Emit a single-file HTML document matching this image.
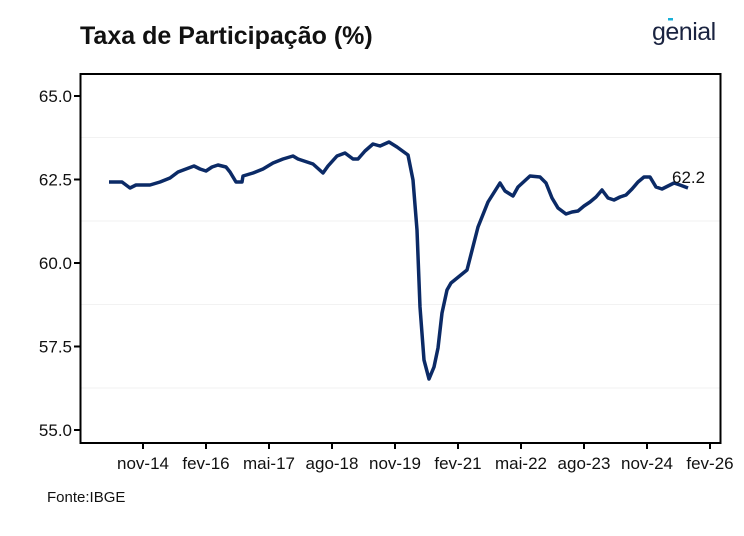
<!DOCTYPE html>
<html><head><meta charset="utf-8"><style>
body{margin:0;background:#fff;width:744px;height:531px;overflow:hidden;font-family:"Liberation Sans",Arial,sans-serif}
</style></head><body>
<svg width="744" height="531" viewBox="0 0 744 531" xmlns="http://www.w3.org/2000/svg" font-family="Liberation Sans, Arial, sans-serif">
<text x="80" y="44" font-size="25" font-weight="bold" fill="#111">Taxa de Participação (%)</text>
<text x="652" y="40" font-size="25" fill="#1a2340" letter-spacing="-0.5">genial</text>
<rect x="668" y="18" width="5" height="2.5" fill="#19b0d8"/>
<g stroke="#f2f2f2" stroke-width="1">
<line x1="81" x2="720" y1="137.5" y2="137.5"/>
<line x1="81" x2="720" y1="221" y2="221"/>
<line x1="81" x2="720" y1="304.5" y2="304.5"/>
<line x1="81" x2="720" y1="388" y2="388"/>
</g>
<rect x="80.5" y="74" width="640" height="369" fill="none" stroke="#000" stroke-width="2"/>
<g stroke="#000" stroke-width="2">
<line x1="74" x2="80" y1="96" y2="96"/><line x1="74" x2="80" y1="179.5" y2="179.5"/>
<line x1="74" x2="80" y1="263" y2="263"/><line x1="74" x2="80" y1="346.5" y2="346.5"/>
<line x1="74" x2="80" y1="430" y2="430"/>
<line x1="143" x2="143" y1="443" y2="449"/><line x1="206" x2="206" y1="443" y2="449"/>
<line x1="269" x2="269" y1="443" y2="449"/><line x1="332" x2="332" y1="443" y2="449"/>
<line x1="395" x2="395" y1="443" y2="449"/><line x1="458" x2="458" y1="443" y2="449"/>
<line x1="521" x2="521" y1="443" y2="449"/><line x1="584" x2="584" y1="443" y2="449"/>
<line x1="647" x2="647" y1="443" y2="449"/><line x1="710" x2="710" y1="443" y2="449"/>
</g>
<g font-size="17" fill="#111" text-anchor="end">
<text x="72" y="102">65.0</text><text x="72" y="185.5">62.5</text><text x="72" y="269">60.0</text>
<text x="72" y="352.5">57.5</text><text x="72" y="436">55.0</text>
</g>
<g font-size="17" fill="#111" text-anchor="middle">
<text x="143" y="469">nov-14</text><text x="206" y="469">fev-16</text><text x="269" y="469">mai-17</text>
<text x="332" y="469">ago-18</text><text x="395" y="469">nov-19</text><text x="458" y="469">fev-21</text>
<text x="521" y="469">mai-22</text><text x="584" y="469">ago-23</text><text x="647" y="469">nov-24</text>
<text x="710" y="469">fev-26</text>
</g>
<polyline fill="none" stroke="#0b2a66" stroke-width="3.5" stroke-linejoin="round" points="109,182 122,182 130,188 136,185 150,185 160,182 170,178 178,172 186,169 194,166 200,169 206,171 212,167 218,165 226,167 230,172 236,182 242,182 243,176 253,173 263,169 273,163 283,159 293,156 298,159 307,162 313,164 323,173 328,166 337,156 345,153 353,159 358,159 365,151 373,144 380,146 389,142 397,147 408,155 413,180 417,230 420,307 424,360 429,379 434,367 438,348 442,313 447,290 451,283 467,270 478,227 488,202 500,183 505,191 513,196 518,187 530,176 540,177 546,183 552,198 558,208 566,214 572,212 578,211 584,206 590,202 596,197 602,190 608,198 614,200 620,197 626,195 632,189 638,182 644,177 650,177 656,187 662,189 668,186 674,183 680,185 688,188"/>
<text x="672" y="183" font-size="17" fill="#111">62.2</text>
<text x="47" y="502" font-size="15" fill="#111">Fonte:IBGE</text>
</svg>
</body></html>
